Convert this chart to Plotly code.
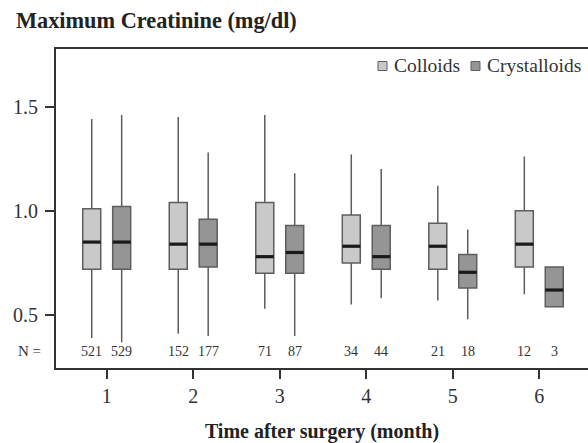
import plotly.graph_objects as go

# Data (mg/dl)
months = [1, 2, 3, 4, 5, 6]

colloid_q1 = [0.72, 0.72, 0.70, 0.75, 0.72, 0.73]
colloid_median = [0.85, 0.84, 0.78, 0.83, 0.83, 0.84]
colloid_q3 = [1.01, 1.04, 1.04, 0.98, 0.94, 1.00]
colloid_low = [0.39, 0.41, 0.53, 0.55, 0.57, 0.60]
colloid_high = [1.44, 1.45, 1.46, 1.27, 1.12, 1.26]
colloid_n = [521, 152, 71, 34, 21, 12]

crystal_q1 = [0.72, 0.73, 0.70, 0.72, 0.63, 0.54]
crystal_median = [0.85, 0.84, 0.80, 0.78, 0.705, 0.62]
crystal_q3 = [1.02, 0.96, 0.93, 0.93, 0.79, 0.73]
crystal_low = [0.37, 0.40, 0.40, 0.58, 0.48, 0.54]
crystal_high = [1.46, 1.28, 1.18, 1.20, 0.91, 0.73]
crystal_n = [529, 177, 87, 44, 18, 3]

SERIF = "Liberation Serif, Times New Roman, serif"
OFFSET = 0.173      # box centre offset from month tick
HALF_W = 0.104      # half box width (data units)

# plot area in pixels (used for the hand-made legend)
W, H = 588, 443
L, R, T, B = 56, 0, 49, 75
PW, PH = W - L - R, H - T - B

groups = [
    ("Colloids", -OFFSET, "#c9c9c9", colloid_q1, colloid_median, colloid_q3,
     colloid_low, colloid_high, colloid_n),
    ("Crystalloids", OFFSET, "#959595", crystal_q1, crystal_median, crystal_q3,
     crystal_low, crystal_high, crystal_n),
]

fig = go.Figure()

for name, off, fill, q1, med, q3, low, high, n in groups:
    xs = [m + off for m in months]
    fig.add_trace(go.Box(
        name=name,
        x=xs,
        q1=q1, median=med, q3=q3,
        lowerfence=low, upperfence=high,
        width=2 * HALF_W,
        whiskerwidth=0,
        fillcolor=fill,
        line=dict(color="#5e5e5e", width=1.5),
        boxpoints=False,
        showlegend=False,
    ))

for name, off, fill, q1, med, q3, low, high, n in groups:
    # thick black median bars
    mx, my = [], []
    for m, v in zip(months, med):
        mx += [m + off - HALF_W, m + off + HALF_W, None]
        my += [v, v, None]
    fig.add_trace(go.Scatter(
        x=mx, y=my, mode="lines",
        line=dict(color="#1a1a1a", width=3.2),
        showlegend=False, hoverinfo="skip",
    ))
    # N counts
    for m, c in zip(months, n):
        fig.add_annotation(
            x=m + off, y=0.327, xref="x", yref="y",
            text=str(c), showarrow=False,
            font=dict(family=SERIF, size=14, color="#333333"),
        )

fig.add_annotation(
    x=0, y=0.327, xref="paper", yref="y", xanchor="right", xshift=-13,
    text="N =", showarrow=False,
    font=dict(family=SERIF, size=15, color="#333333"),
)

# legend drawn by hand: square + label, positions in pixels
legend_items = [("Colloids", "#c9c9c9", 378), ("Crystalloids", "#959595", 471)]
ly = 66
for label, fill, px in legend_items:
    fig.add_shape(
        type="rect", xref="paper", yref="paper",
        x0=(px - L) / PW, x1=(px + 9 - L) / PW,
        y0=(H - B - (ly + 4.5)) / PH, y1=(H - B - (ly - 4.5)) / PH,
        fillcolor=fill, line=dict(color="#5e5e5e", width=1),
    )
    fig.add_annotation(
        x=(px + 14 - L) / PW, y=(H - B - ly) / PH, xref="paper", yref="paper",
        xanchor="left", yanchor="middle", text=label, showarrow=False,
        font=dict(family=SERIF, size=19.5, color="#333333"),
    )

fig.update_layout(
    width=W, height=H,
    margin=dict(l=L, r=R, t=T, b=B),
    paper_bgcolor="white", plot_bgcolor="white",
    boxmode="overlay",
    showlegend=False,
    font=dict(family=SERIF, size=20, color="#333333"),
    title=dict(
        text="<b>Maximum Creatinine (mg/dl)</b>",
        x=16 / W, xanchor="left", xref="container",
        y=1 - 20 / H, yanchor="middle", yref="container",
        font=dict(family=SERIF, size=22.3, color="#222222"),
    ),
    xaxis=dict(
        range=[0.414, 6.563], tickvals=months, ticktext=[str(m) for m in months],
        showline=True, linecolor="#333333", linewidth=2, mirror=True,
        ticks="outside", ticklen=9, tickwidth=2, tickcolor="#333333",
        showgrid=False, zeroline=False,
        title=dict(text="<b>Time after surgery (month)</b>", standoff=19,
                   font=dict(family=SERIF, size=20, color="#222222")),
    ),
    yaxis=dict(
        range=[0.246, 1.776], tickvals=[0.5, 1.0, 1.5], ticktext=["0.5", "1.0", "1.5"],
        showline=True, linecolor="#333333", linewidth=2,
        ticks="outside", ticklen=9, tickwidth=2, tickcolor="#333333",
        ticklabelstandoff=3,
        showgrid=False, zeroline=False,
    ),
)

fig.write_html("out.html", config={"displayModeBar": False},
               post_script="document.body.style.margin='0';")
